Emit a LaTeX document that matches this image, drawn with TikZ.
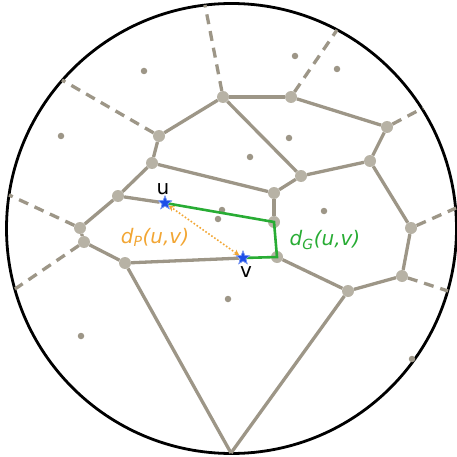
\documentclass[tikz,border=0pt]{standalone}
\usepackage{fontspec}
\setmainfont{DejaVu Sans}
\usepackage{tikz}
\usetikzlibrary{arrows}
\usetikzlibrary{shapes.geometric}

\definecolor{edgegray}{RGB}{157,150,135}
\definecolor{vertgray}{RGB}{183,178,165}
\definecolor{pathgreen}{RGB}{40,172,52}
\definecolor{distorange}{RGB}{242,166,52}
\definecolor{starblue}{RGB}{28,78,232}

\tikzset{
    vert/.style={circle, fill=vertgray, inner sep=0pt, minimum size=12pt},
    site/.style={circle, fill=edgegray, inner sep=0pt, minimum size=6.5pt},
    edge/.style={edgegray, line width=3.3pt},
    ray/.style={edgegray, line width=3.3pt, dash pattern=on 10pt off 7pt},
    ptstar/.style={star, star points=5, star point ratio=2.3, fill=starblue, draw=starblue!55!white, line width=0.6pt, inner sep=0pt, minimum size=14pt},
    lbl/.style={font=\fontsize{20}{23}\selectfont, inner sep=0pt},
}

\begin{document}
\begin{tikzpicture}[x=1pt, y=-1pt]
        \useasboundingbox (0,0) rectangle (456,457);

        % --- DISK ---
        \draw[black, line width=2.8pt] (231.5,228.5) circle (225);

        % --- SITES ---
        \node[site] (s1) at (144,71) {};
        \node[site] (s2) at (61,136) {};
        \node[site] (s3) at (222,210) {};
        \node[site] (s4) at (218,219) {};
        \node[site] (s5) at (295,56) {};
        \node[site] (s6) at (337,69) {};
        \node[site] (s7) at (289,138) {};
        \node[site] (s8) at (250,157) {};
        \node[site] (s9) at (324,211) {};
        \node[site] (s10) at (228,299) {};
        \node[site] (s11) at (81,336) {};
        \node[site] (s12) at (412,359) {};

        % --- VERTICES ---
        \node[vert] (A) at (223,97) {};
        \node[vert] (G) at (291,97) {};
        \node[vert] (H) at (387,127) {};
        \node[vert] (I) at (370,161) {};
        \node[vert] (J) at (301,176) {};
        \node[vert] (K) at (274,193) {};
        \node[vert] (L) at (274,222) {};
        \node[vert] (M) at (411,228) {};
        \node[vert] (B) at (159,136) {};
        \node[vert] (C) at (152,163) {};
        \node[vert] (D) at (118,196) {};
        \node[vert] (E) at (80,228) {};
        \node[vert] (F) at (84,242) {};
        \node[vert] (N) at (125,263) {};
        \node[vert] (O) at (277,257) {};
        \node[vert] (P) at (348,291) {};
        \node[vert] (Q) at (402,276) {};
        \coordinate (Z) at (231,453);

        % --- POINTS u AND v ---
        \node[ptstar] (u) at (165,203) {};
        \node[ptstar] (v) at (243,258) {};

        % ends of the unbounded cells on the disk
        \coordinate (rA) at (205,5);
        \coordinate (rB) at (62,80);
        \coordinate (rG) at (337,30);
        \coordinate (rH) at (423,108);
        \coordinate (rM) at (456,208);
        \coordinate (rQ) at (448,291);
        \coordinate (rE) at (9,195);
        \coordinate (rF) at (15,289);

        % --- EDGES ---
        \draw[edge] (A) -- (G);
        \draw[edge] (A) -- (B);
        \draw[edge] (A) -- (J);
        \draw[edge] (G) -- (H);
        \draw[edge] (H) -- (I);
        \draw[edge] (I) -- (J);
        \draw[edge] (J) -- (K);
        \draw[edge] (K) -- (L);
        \draw[edge] (I) -- (M);
        \draw[edge] (M) -- (Q);
        \draw[edge] (Q) -- (P);
        \draw[edge] (P) -- (O);
        \draw[edge] (P) -- (Z);
        \draw[edge] (B) -- (C);
        \draw[edge] (C) -- (K);
        \draw[edge] (C) -- (D);
        \draw[edge] (D) -- (E);
        \draw[edge] (E) -- (F);
        \draw[edge] (F) -- (N);
        \draw[edge] (N) -- (Z);
        \draw[edge] (D) -- (u);
        \draw[edge] (N) -- (v);

        \draw[ray] (A) -- (rA);
        \draw[ray] (B) -- (rB);
        \draw[ray] (G) -- (rG);
        \draw[ray] (H) -- (rH);
        \draw[ray] (M) -- (rM);
        \draw[ray] (Q) -- (rQ);
        \draw[ray] (E) -- (rE);
        \draw[ray] (F) -- (rF);

        % --- GRAPH PATH ---
        \draw[pathgreen, line width=2.6pt] (u.center) -- (L.center) -- (O.center) -- (v.center);
        \node[ptstar] at (u) {};
        \node[ptstar] at (v) {};

        % --- DIRECT DISTANCE ---
        \draw[distorange, line width=1.6pt, dotted, stealth-stealth] (v) -- (u);

        % --- LABELS ---
        \node[lbl] (ulab) at (163,189) {u};
        \node[lbl] (vlab) at (246,272) {v};
        \node[lbl, text=distorange] (dP) at (155,237) {\itshape d\textsubscript{P}(u,v)};
        \node[lbl, text=pathgreen] (dG) at (325,240) {\itshape d\textsubscript{G}(u,v)};
\end{tikzpicture}
\end{document}
